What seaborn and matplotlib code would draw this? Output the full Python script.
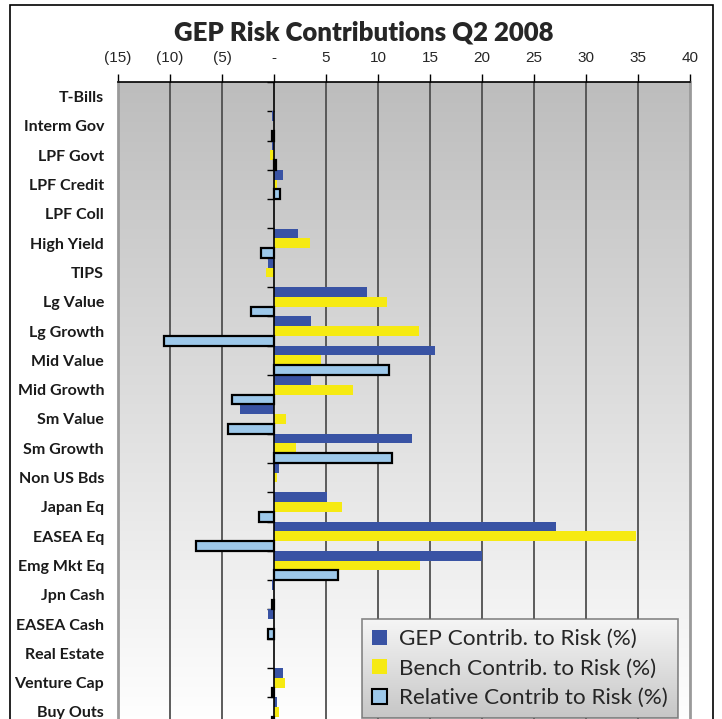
import numpy as np
import pandas as pd
import matplotlib
matplotlib.use("Agg")
import matplotlib.pyplot as plt
import seaborn as sns
from matplotlib.patches import Patch, Rectangle
from matplotlib.colors import LinearSegmentedColormap

# ---------------- data ----------------
categories = ["T-Bills", "Interm Gov", "LPF Govt", "LPF Credit", "LPF Coll", "High Yield",
              "TIPS", "Lg Value", "Lg Growth", "Mid Value", "Mid Growth", "Sm Value",
              "Sm Growth", "Non US Bds", "Japan Eq", "EASEA Eq", "Emg Mkt Eq", "Jpn Cash",
              "EASEA Cash", "Real Estate", "Venture Cap", "Buy Outs"]
gep_contrib = [0, -0.2, -0.2, 0.85, 0, 2.3, -0.6, 8.9, 3.55, 15.5, 3.55, -3.3,
               13.3, 0.5, 5.1, 27.1, 20.0, -0.2, -0.6, 0, 0.85, 0.25]
bench_contrib = [0, 0, -0.4, 0.25, 0, 3.5, -0.75, 10.85, 13.9, 4.5, 7.6, 1.2,
                 2.1, 0.25, 6.55, 34.8, 14.0, 0, 0, 0, 1.05, 0.45]
relative_contrib = [0, -0.15, 0.2, 0.6, 0, -1.25, 0, -2.25, -10.6, 11.1, -4.05, -4.45,
                    11.3, 0, -1.45, -7.5, 6.2, -0.2, -0.6, 0, -0.2, -0.2]
series_names = ["GEP Contrib. to Risk (%)", "Bench Contrib. to Risk (%)",
                "Relative Contrib to Risk (%)"]
x_tick_values = [-15, -10, -5, 0, 5, 10, 15, 20, 25, 30, 35, 40]
x_tick_labels = ["(15)", "(10)", "(5)", "-", "5", "10", "15", "20", "25", "30", "35", "40"]
title_text = "GEP Risk Contributions Q2 2008"

colors = ["#3953A4", "#F6EA12", "#9DC8EA"]

df = pd.DataFrame({
    "Category": categories * 3,
    "Series": [series_names[0]] * len(categories) + [series_names[1]] * len(categories)
              + [series_names[2]] * len(categories),
    "Value": gep_contrib + bench_contrib + relative_contrib,
})

# ---------------- figure ----------------
sns.set_style("white")
plt.rcParams["font.family"] = ["Lato", "DejaVu Sans"]

W, H = 722, 719
fig = plt.figure(figsize=(W / 100, H / 100), dpi=100)
n = len(categories)
top_px, bottom_px = 82, 82 + (n) * 29.3
ax = fig.add_axes([118 / W, (H - bottom_px) / H, 572 / W, (bottom_px - top_px) / H])

# gradient background
grad = np.linspace(0, 1, 256).reshape(-1, 1)
cmap_bg = LinearSegmentedColormap.from_list("bg", ["#bdbdbd", "#ffffff"])
ax.imshow(grad, cmap=cmap_bg, extent=[0, 1, 0, 1], transform=ax.transAxes,
          aspect="auto", origin="upper", zorder=0)

sns.barplot(data=df, y="Category", x="Value", hue="Series", hue_order=series_names,
            order=categories, palette=colors, orient="h", width=1.0, saturation=1,
            errorbar=None, legend=False, ax=ax, zorder=2)

# outline the relative bars
for p in ax.containers[2]:
    if p.get_width() == 0:
        p.set_linewidth(0)
    else:
        p.set_edgecolor("black")
        p.set_linewidth(1.6)
for c in ax.containers[:2]:
    for p in c:
        p.set_linewidth(0)

ax.set_xlim(x_tick_values[0], x_tick_values[-1])
ax.set_ylim(n - 0.5, -0.5)

# vertical gridlines
for v in x_tick_values[1:-1]:
    if v != 0:
        ax.axvline(v, color="#505050", lw=1.3, zorder=0.5)
ax.axvline(0, color="black", lw=1.2, zorder=3)
# category boundary ticks on the zero axis
for i in range(n + 1):
    ax.plot([-0.65, 0], [i - 0.5, i - 0.5], color="black", lw=1, zorder=0.9,
            solid_capstyle="butt")

# axes
ax.xaxis.tick_top()
ax.set_xticks(x_tick_values)
ax.set_xticklabels(x_tick_labels, family=["Liberation Sans", "DejaVu Sans"])
ax.tick_params(axis="x", length=6, width=1, color="black", pad=6, labelsize=11,
               direction="out", top=True, bottom=False)
ax.set_yticks(range(n))
ax.set_yticklabels(categories)
ax.tick_params(axis="y", length=0, pad=10, labelsize=11.5, left=False)
for t in ax.get_yticklabels():
    t.set_fontweight("bold")
    t.set_color("#1a1a1a")
ax.set_xlabel("")
ax.set_ylabel("")
for s in ["left", "right"]:
    ax.spines[s].set_color("#9a9a9a")
    ax.spines[s].set_linewidth(2)
ax.spines["top"].set_color("black")
ax.spines["top"].set_linewidth(1.2)
ax.spines["bottom"].set_visible(False)

# title
fig.text(364 / W, 1 - 32 / H, title_text, ha="center", va="center",
         fontsize=18.5, fontweight="heavy")

# outer frame
fig.add_artist(Rectangle((10 / W, -0.05), 703 / W, 1.05 - 5 / H, transform=fig.transFigure,
                         fill=False, edgecolor="black", lw=1.2, clip_on=False))

# legend
handles = [Patch(facecolor=colors[0], edgecolor="none"),
           Patch(facecolor=colors[1], edgecolor="none"),
           Patch(facecolor=colors[2], edgecolor="black", linewidth=1.5)]
leg = fig.legend(handles, series_names, loc="upper left",
                 bbox_to_anchor=(362 / W, 1 - 619 / H), bbox_transform=fig.transFigure,
                 frameon=True, fancybox=False, fontsize=16.2, handlelength=0.65,
                 handleheight=0.65, handletextpad=0.55, labelspacing=0.42,
                 borderpad=0.45, borderaxespad=0)
leg.get_frame().set_facecolor("none")
leg.get_frame().set_edgecolor("#6a6a6a")
leg.get_frame().set_linewidth(1.2)
leg.set_zorder(5)

fig.canvas.draw()
bb = leg.get_window_extent().transformed(fig.transFigure.inverted())
lax = fig.add_axes([bb.x0, bb.y0, bb.width, bb.height], zorder=1)
cmap_leg = LinearSegmentedColormap.from_list("lg", ["#f6f6f6", "#c6c6c6"])
lax.imshow(grad, cmap=cmap_leg, extent=[0, 1, 0, 1], aspect="auto", origin="upper")
lax.set_axis_off()

fig.savefig("out.png", dpi=100)
